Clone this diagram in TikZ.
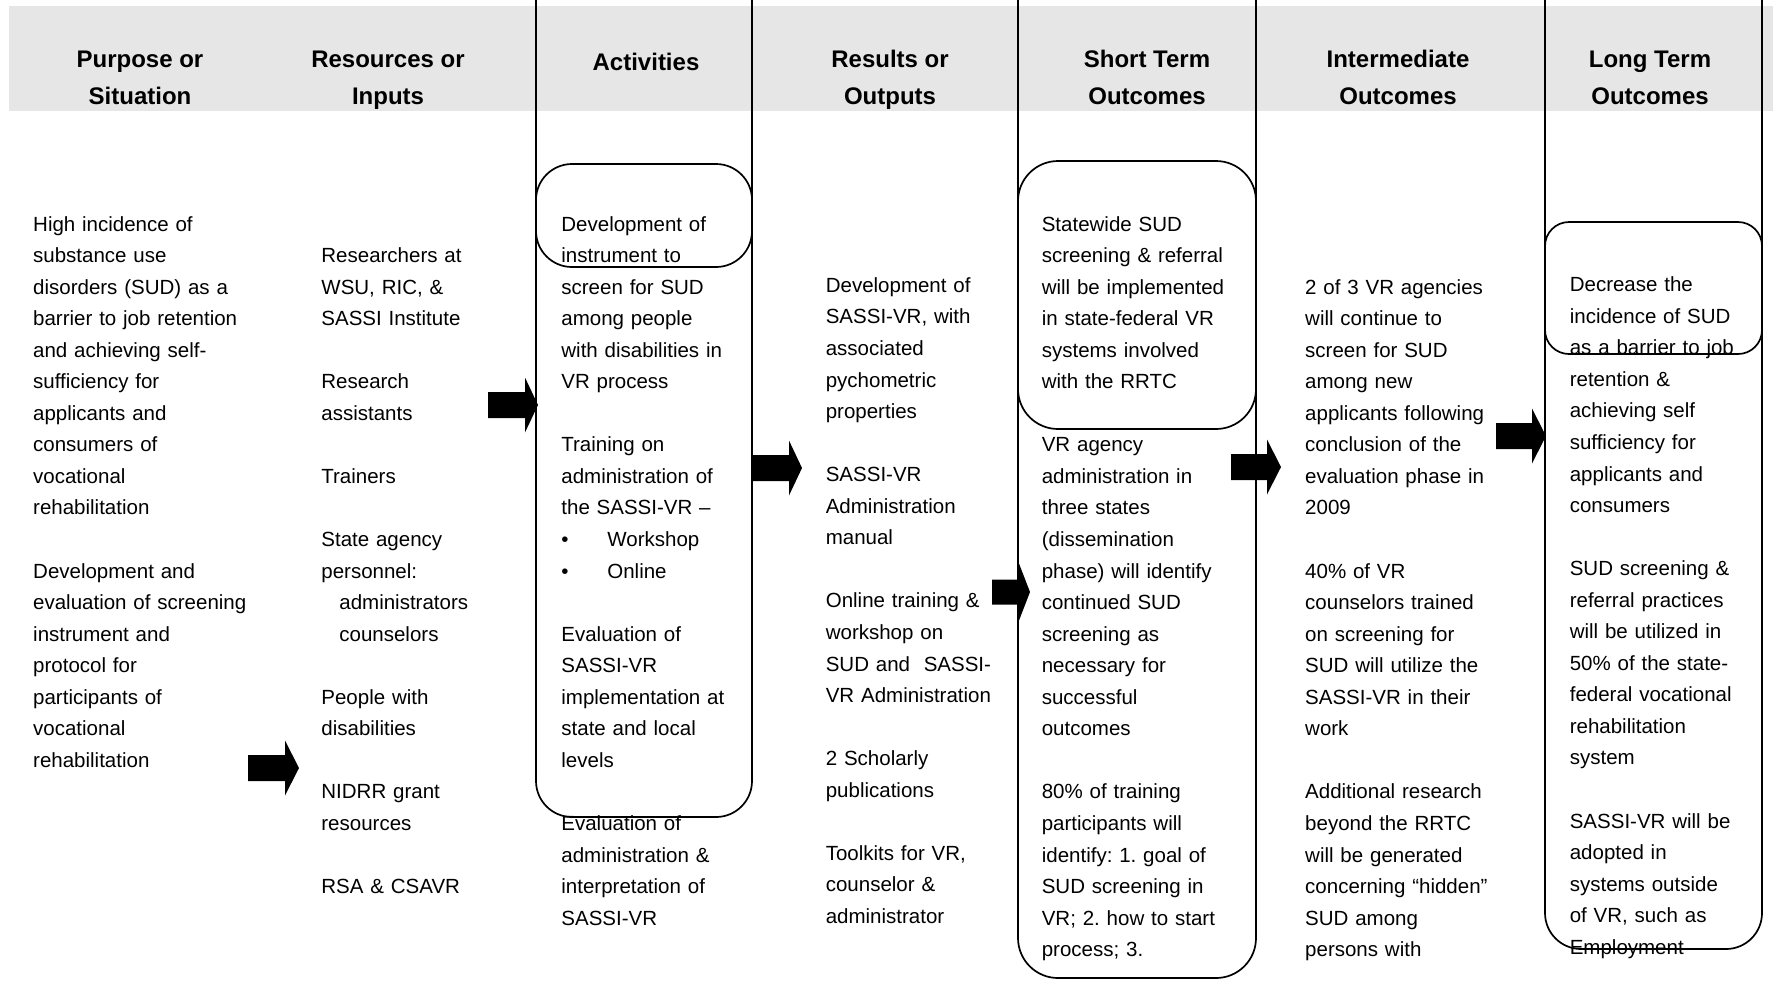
\documentclass[tikz,border=0pt]{standalone}
\usepackage{fontspec}
\setmainfont{Liberation Sans}
\definecolor{bandgray}{RGB}{230,230,230}
\newcommand\blkarrow[6]{% shaft start, head start, tip, centre y, shaft half, head half
  \fill[black] (#1,#4-#5) -- (#2,#4-#5) -- (#2,#4-#6) -- (#3,#4) -- (#2,#4+#6) -- (#2,#4+#5) -- (#1,#4+#5) -- cycle;}
\def\bls{15.775pt}
\tikzset{
  colline/.style={draw=black, line width=0.85pt},
  headtxt/.style={inner sep=0pt, font=\bfseries\fontsize{12}{18.1}\selectfont, align=center, anchor=base},
  bodytxt/.style={inner sep=0pt, text width=125pt, align=left, anchor=base west,
    font=\fontsize{10.25}{15.775}\selectfont\frenchspacing},
}
\begin{document}
\begin{tikzpicture}[x=0.5pt,y=-0.5pt]
\useasboundingbox (0,0) rectangle (1773,981);
% header band
\fill[bandgray] (9,6) rectangle (1773,111);
% column outlines
\draw[colline, rounded corners=18pt] (536,0) -- (536,267) -- (752,267) -- (752,0);
\draw[colline, rounded corners=18pt] (536,164) rectangle (752,817);
\draw[colline, rounded corners=20pt] (1018,0) -- (1018,978) -- (1256,978) -- (1256,0);
\draw[colline, rounded corners=20pt] (1018,161) rectangle (1256,429);
\draw[colline, rounded corners=18pt] (1545,0) -- (1545,949) -- (1762,949) -- (1762,0);
\draw[colline, rounded corners=12pt] (1545,222) rectangle (1762,354);
% headers (base anchor = baseline of the last line)
\node[headtxt] (h1) at (140,104) {Purpose or\\Situation};
\node[headtxt] (h2) at (388,104) {Resources or\\Inputs};
\node[headtxt] (h3) at (646,70.7) {Activities};
\node[headtxt] (h4) at (890,104) {Results or\\Outputs};
\node[headtxt] (h5) at (1147,104) {Short Term\\Outcomes};
\node[headtxt] (h6) at (1398,104) {Intermediate\\Outcomes};
\node[headtxt] (h7) at (1650,104) {Long Term\\Outcomes};
% column texts
\node[bodytxt] (c1) at (32.8,231) {High incidence of\\substance use\\disorders (SUD) as a\\barrier to job retention\\and achieving self-\\sufficiency for\\applicants and\\consumers of\\vocational\\rehabilitation\\[\bls]Development and\\evaluation of screening\\instrument and\\protocol for\\participants of\\vocational\\rehabilitation};
\node[bodytxt] (c2) at (321,262.5) {Researchers at\\WSU, RIC, \&\\SASSI Institute\\[\bls]Research\\assistants\\[\bls]Trainers\\[\bls]State agency\\personnel:\\\hspace*{9pt}administrators\\\hspace*{9pt}counselors\\[\bls]People with\\disabilities\\[\bls]NIDRR grant\\resources\\[\bls]RSA \& CSAVR};
\node[bodytxt] (c3) at (561,231) {Development of\\instrument to\\screen for SUD\\among people\\with disabilities in\\VR process\\[\bls]Training on\\administration of\\the SASSI-VR –\\\makebox[23pt][l]{•}Workshop\\\makebox[23pt][l]{•}Online\\[\bls]Evaluation of\\SASSI-VR\\implementation at\\state and local\\levels\\[\bls]Evaluation of\\administration \&\\interpretation of\\SASSI-VR};
\node[bodytxt] (c4) at (825.4,292.4) {Development of\\SASSI-VR, with\\associated\\pychometric\\properties\\[\bls]SASSI-VR\\Administration\\manual\\[\bls]Online training \&\\workshop on\\SUD and\ \ SASSI-\\VR Administration\\[\bls]2 Scholarly\\publications\\[\bls]Toolkits for VR,\\counselor \&\\administrator};
\node[bodytxt] (c5) at (1041.4,231) {Statewide SUD\\screening \& referral\\will be implemented\\in state-federal VR\\systems involved\\with the RRTC\\[\bls]VR agency\\administration in\\three states\\(dissemination\\phase) will identify\\continued SUD\\screening as\\necessary for\\successful\\outcomes\\[\bls]80\% of training\\participants will\\identify: 1. goal of\\SUD screening in\\VR; 2. how to start\\process; 3.};
\node[bodytxt] (c6) at (1304.8,294.1) {2 of 3 VR agencies\\will continue to\\screen for SUD\\among new\\applicants following\\conclusion of the\\evaluation phase in\\2009\\[\bls]40\% of VR\\counselors trained\\on screening for\\SUD will utilize the\\SASSI-VR in their\\work\\[\bls]Additional research\\beyond the RRTC\\will be generated\\concerning “hidden”\\SUD among\\persons with};
\node[bodytxt] (c7) at (1569.4,291.7) {Decrease the\\incidence of SUD\\as a barrier to job\\retention \&\\achieving self\\sufficiency for\\applicants and\\consumers\\[\bls]SUD screening \&\\referral practices\\will be utilized in\\50\% of the state-\\federal vocational\\rehabilitation\\system\\[\bls]SASSI-VR will be\\adopted in\\systems outside\\of VR, such as\\Employment};
% block arrows
\blkarrow{248}{285}{299}{768}{13}{27.5}
\blkarrow{488}{525}{538}{405}{13}{27.5}
\blkarrow{752}{789}{802}{468}{13}{27.5}
\blkarrow{992}{1019}{1030}{592}{12.5}{28.5}
\blkarrow{1231}{1267}{1281}{467}{13}{27.5}
\blkarrow{1496}{1532}{1546}{436}{13}{27.5}
\end{tikzpicture}
\end{document}
